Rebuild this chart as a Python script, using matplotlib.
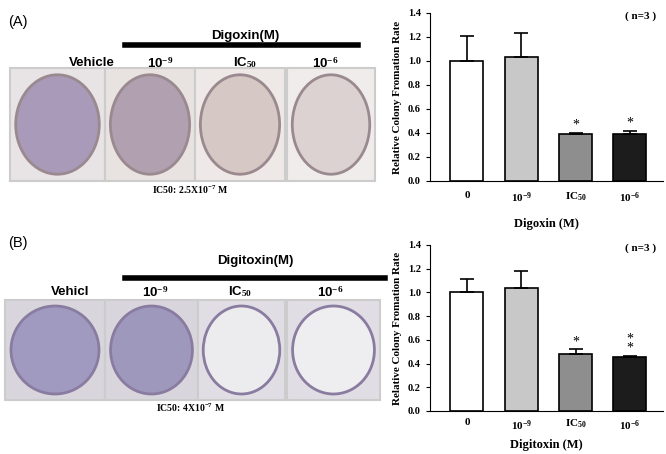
import matplotlib
matplotlib.use("Agg")
import matplotlib.pyplot as plt
from matplotlib.patches import Rectangle, Ellipse

plt.rcParams["mathtext.fontset"] = "custom"
plt.rcParams["mathtext.rm"] = "Liberation Serif:bold"
plt.rcParams["mathtext.it"] = "Liberation Serif:bold"
plt.rcParams["mathtext.bf"] = "Liberation Serif:bold"

categories = ["0", "$10^{-9}$", "IC$_{50}$", "$10^{-6}$"]
digoxin_vals = [1.0, 1.035, 0.39, 0.39]
digoxin_err = [0.21, 0.20, 0.01, 0.03]
digoxin_stars = ["", "", "*", "*"]
digitoxin_vals = [1.0, 1.04, 0.48, 0.455]
digitoxin_err = [0.11, 0.14, 0.04, 0.01]
digitoxin_stars = ["", "", "*", "*\n*"]
bar_colors = ["#ffffff", "#c8c8c8", "#8e8e8e", "#1c1c1c"]
yticks = [0.0, 0.2, 0.4, 0.6, 0.8, 1.0, 1.2, 1.4]

SERIF = "Liberation Serif"
SANS = "Liberation Sans"
fig = plt.figure(figsize=(6.66, 4.54), dpi=100)

ov = fig.add_axes([0, 0, 1, 1])
ov.set_xlim(0, 666); ov.set_ylim(454, 0); ov.axis("off")

def panel(y0, y1, boxes, plate_cols, title, line, labels, caption, tag, ty, ly, cy, B):
    ov.text(8, ty, tag, fontsize=10.5, family=SANS, va="center")
    ov.plot(line[:2], [line[2]] * 2, color="black", lw=4)
    ov.text(title[1], title[2], title[0], fontsize=9.5, family=SANS,
            weight="bold", ha="center", va="center")
    for (x, lab) in labels:
        ov.text(x, ly, lab, fontsize=9.5, family=SANS, weight="bold",
                ha="center", va="center")
    for (xa, xb), (bg, pc) in zip(boxes, plate_cols):
        ov.add_patch(Rectangle((xa, y0), xb - xa, y1 - y0, facecolor=bg,
                               edgecolor="#cccccc", lw=1.5))
        ov.add_patch(Ellipse(((xa + xb) / 2, (y0 + y1) / 2), (xb - xa) * 0.88,
                             (y1 - y0) * 0.88, facecolor=pc,
                             edgecolor="#8a7ca0" if B else "#9a8a90", lw=2))
    ov.text(190, cy, caption, fontsize=7, family=SERIF, weight="bold",
            ha="center", va="center")

panel(68, 181, [(10, 105), (105, 195), (195, 285), (287, 375)],
      [("#e8e4e6", "#a89ab8"), ("#e8e2e0", "#b0a0b0"), ("#eee8e6", "#d6c8c4"),
       ("#f0ecec", "#dcd2d2")],
      ("Digoxin(M)", 245, 36), (125, 358, 45),
      [(92, "Vehicle"), (160, "10$^{-9}$"), (245, "IC$_{50}$"), (325, "10$^{-6}$")],
      "IC50: 2.5X10$^{-7}$ M", "(A)", 22, 63, 190, False)
panel(300, 400, [(5, 105), (105, 198), (198, 285), (287, 380)],
      [("#d8d6dc", "#a09ac0"), ("#d8d6dc", "#9e98bc"), ("#e0dee4", "#ecebee"),
       ("#e0dee4", "#eeedf0")],
      ("Digitoxin(M)", 255, 261), (125, 385, 278),
      [(70, "Vehicl"), (155, "10$^{-9}$"), (240, "IC$_{50}$"), (330, "10$^{-6}$")],
      "IC50: 4X10$^{-7}$ M", "(B)", 243, 292, 408, True)

def chart(rect, vals, errs, stars, xlabel, pad, lpad):
    ax = fig.add_axes(rect)
    x = range(len(categories))
    ax.bar(x, vals, width=0.61, color=bar_colors, edgecolor="black", lw=1.2,
           yerr=[[0] * len(errs), errs], capsize=5,
           error_kw=dict(ecolor="black", elinewidth=1.2, capthick=1.2))
    for i, (v, e, s) in enumerate(zip(vals, errs, stars)):
        if s:
            ax.text(i, v + e + 0.01, s, ha="center", va="bottom", fontsize=10,
                    family=SERIF, linespacing=0.6)
    ax.set_xlim(-0.68, 3.61); ax.set_ylim(0, 1.4)
    ax.set_yticks(yticks)
    ax.set_yticklabels([f"{t:.1f}" for t in yticks], family=SERIF, weight="bold", fontsize=7.5)
    ax.set_xticks(list(x))
    ax.set_xticklabels(categories, family=SERIF, weight="bold", fontsize=8)
    ax.tick_params(axis="x", length=0, pad=pad)
    ax.tick_params(axis="y", length=3, direction="out")
    for s in ["top", "right"]:
        ax.spines[s].set_visible(False)
    ax.set_ylabel("Relative Colony Fromation Rate", family=SERIF, weight="bold", fontsize=8)
    ax.set_xlabel(xlabel, family=SERIF, weight="bold", fontsize=9, labelpad=lpad)
    ax.text(0.97, 0.98, "( n=3 )", transform=ax.transAxes, ha="right", va="center",
            family=SERIF, weight="bold", fontsize=8)
    return ax

chart([430 / 666, 1 - 181 / 454, 233 / 666, 168 / 454], digoxin_vals, digoxin_err,
      digoxin_stars, "Digoxin (M)", 7, 9)
chart([430 / 666, 1 - 411 / 454, 233 / 666, 166 / 454], digitoxin_vals, digitoxin_err,
      digitoxin_stars, "Digitoxin (M)", 5, 5)

fig.savefig("out.png", dpi=100)
